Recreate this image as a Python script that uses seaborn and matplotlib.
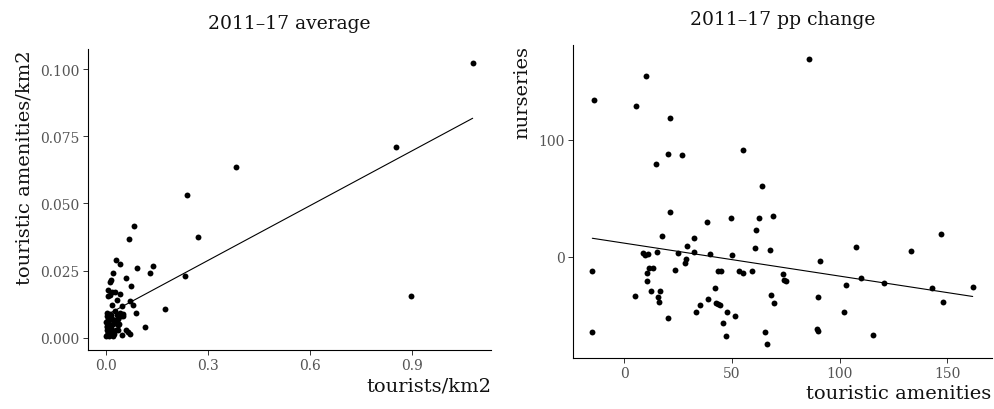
import numpy as np
import pandas as pd
import matplotlib
matplotlib.use("Agg")
import matplotlib.pyplot as plt
import seaborn as sns

# ---- left panel: 2011-17 average ----
tourists_km2 = [
    1.077, 0.852, 0.896, 0.381, 0.238, 0.270, 0.230, 0.172, 0.113, 0.136,
    0.127, 0.090, 0.082, 0.068, 0.086, 0.078, 0.070, 0.072, 0.059, 0.028,
    0.039, 0.020, 0.014, 0.011, 0.005, 0.018, 0.006, 0.040, 0.031, 0.017,
    0.046, 0.059, 0.065, 0.070, 0.046, 0.033, 0.034, 0.043, 0.025, 0.048,
    0.041, 0.049, 0.025, 0.012,
    0.000, 0.002, 0.004, 0.001, 0.003, 0.006, 0.000, 0.005, 0.002, 0.008,
    0.010, 0.015, 0.012, 0.018, 0.022, 0.026, 0.030, 0.020, 0.014, 0.010,
    0.008, 0.012, 0.016, 0.020, 0.024, 0.007, 0.004, 0.001, 0.028, 0.035,
    0.038, 0.030, 0.009, 0.003, 0.017,
]
amenities_km2 = [
    0.1024, 0.0710, 0.0157, 0.0637, 0.0532, 0.0376, 0.0230, 0.0106, 0.0041, 0.0265,
    0.0241, 0.0261, 0.0417, 0.0369, 0.0091, 0.0120, 0.0135, 0.0191, 0.0224, 0.0290,
    0.0273, 0.0239, 0.0215, 0.0207, 0.0177, 0.0171, 0.0156, 0.0161, 0.0139, 0.0120,
    0.0117, 0.0030, 0.0020, 0.0015, 0.0010, 0.0047, 0.0069, 0.0080, 0.0100, 0.0082,
    0.0093, 0.0087, 0.0170, 0.0158,
    0.0005, 0.0010, 0.0020, 0.0030, 0.0040, 0.0050, 0.0060, 0.0070, 0.0080, 0.0085,
    0.0088, 0.0085, 0.0075, 0.0070, 0.0065, 0.0060, 0.0055, 0.0050, 0.0045, 0.0035,
    0.0025, 0.0015, 0.0010, 0.0008, 0.0012, 0.0005, 0.0060, 0.0045, 0.0030, 0.0028,
    0.0052, 0.0085, 0.0065, 0.0090, 0.0030,
]

# ---- right panel: 2011-17 pp change ----
amenities_change = [
    -13.9, -14.9, -14.9, 5.4, 9.9, 5.1, 8.8, 9.8, 10.8, 10.7,
    10.5, 11.6, 13.5, 12.4, 14.9, 15.3, 15.6, 16.1, 16.6, 17.6,
    20.3, 21.2, 21.2, 20.4, 23.7, 25.1, 26.8, 28.0, 28.6, 28.9,
    32.2, 32.2, 33.4, 35.0, 38.5, 39.0, 39.9, 42.3, 42.7, 43.3,
    44.3, 43.7, 45.0, 46.0, 47.2, 47.7, 49.4, 50.2, 51.2, 53.1,
    55.0, 55.1, 59.3, 60.8, 61.1, 62.5, 64.1, 65.3, 66.1, 67.8,
    68.3, 68.9, 69.5, 73.5, 74.0, 75.2, 85.8, 89.5, 89.8, 90.1,
    91.0, 102.0, 102.9, 107.7, 110.2, 115.5, 120.6, 133.4, 143.2, 147.2,
    148.1, 161.9,
]
nurseries_change = [
    133.5, -12.2, -64.5, 129.0, 154.5, -33.8, 2.8, 1.1, 2.6, -14.2,
    -21.0, -9.7, -9.7, -29.3, 79.5, 4.0, -34.7, -38.4, -29.0, 17.3,
    87.8, 118.2, 38.1, -52.8, -11.1, 2.8, 86.6, -5.4, -2.0, 9.4,
    15.6, 4.0, -47.4, -40.9, 29.5, -35.8, 2.0, -27.0, -39.8, -40.3,
    -41.5, -12.2, -12.2, -56.8, -67.6, -46.9, 32.7, 1.1, -51.1, -12.2,
    -14.2, 90.9, -12.2, 7.1, 22.7, 33.2, 60.8, -64.5, -74.4, 5.4,
    -33.0, 35.2, -39.8, -14.5, -20.2, -21.0, 169.0, -62.2, -63.9, -34.4,
    -3.4, -46.9, -23.9, 8.5, -18.2, -67.0, -22.2, 4.5, -26.7, 19.3,
    -38.9, -26.1,
]

left_xticks = [0.0, 0.3, 0.6, 0.9]
left_yticks = [0.000, 0.025, 0.050, 0.075, 0.100]
right_xticks = [0, 50, 100, 150]
right_yticks = [0, 100]

df_avg = pd.DataFrame({"tourists": tourists_km2, "amen": amenities_km2})
df_chg = pd.DataFrame({"amen": amenities_change, "nurs": nurseries_change})

sns.set_style("white")
plt.rcParams["font.family"] = ["DejaVu Serif", "DejaVu Sans"]

W, H = 995, 410
fig = plt.figure(figsize=(W / 100, H / 100), dpi=100)
ax1 = fig.add_axes([88 / W, 1 - 351 / H, (491 - 88) / W, (351 - 50) / H])
ax2 = fig.add_axes([573.3 / W, 1 - 359 / H, (991.7 - 573.3) / W, (359 - 45.7) / H])

scat = dict(s=18, color="black", linewidths=0, alpha=1)
line = dict(color="black", lw=0.8)

sns.regplot(data=df_avg, x="tourists", y="amen", ax=ax1, ci=None,
            scatter_kws=scat, line_kws=line, truncate=True)
sns.regplot(data=df_chg, x="amen", y="nurs", ax=ax2, ci=None,
            scatter_kws=scat, line_kws=line, truncate=True)

def expand(vals, f=0.05):
    lo, hi = min(vals), max(vals)
    r = hi - lo
    return lo - f * r, hi + f * r

ax1.set_xlim(*expand(tourists_km2))
ax1.set_ylim(*expand(amenities_km2))
ax2.set_xlim(*expand(amenities_change))
ax2.set_ylim(*expand(nurseries_change))

ax1.set_xticks(left_xticks)
ax1.set_xticklabels([f"{v:.1f}" for v in left_xticks])
ax1.set_yticks(left_yticks)
ax1.set_yticklabels([f"{v:.3f}" for v in left_yticks])
ax2.set_xticks(right_xticks)
ax2.set_xticklabels([str(v) for v in right_xticks])
ax2.set_yticks(right_yticks)
ax2.set_yticklabels([str(v) for v in right_yticks])

for ax, title, xl, yl, tpad in [
    (ax1, "2011–17 average", "tourists/km2", "touristic amenities/km2", 15),
    (ax2, "2011–17 pp change", "touristic amenities", "nurseries", 15),
]:
    for side in ["top", "right"]:
        ax.spines[side].set_visible(False)
    for side in ["left", "bottom"]:
        ax.spines[side].set_color("black")
        ax.spines[side].set_linewidth(0.8)
    ax.tick_params(axis="both", which="major", length=3.5, width=0.7,
                   color="#333333", labelcolor="#555555", labelsize=10,
                   direction="out", pad=2.5, left=True, bottom=True)
    ax.set_title(title, fontsize=13.5, pad=tpad, color="#111111")
    ax.set_xlabel(xl, fontsize=14, loc="right", labelpad=3, color="#111111")
    ax.set_ylabel(yl, fontsize=14, loc="top", labelpad=5, color="#111111")

fig.savefig("out.png", dpi=100)
